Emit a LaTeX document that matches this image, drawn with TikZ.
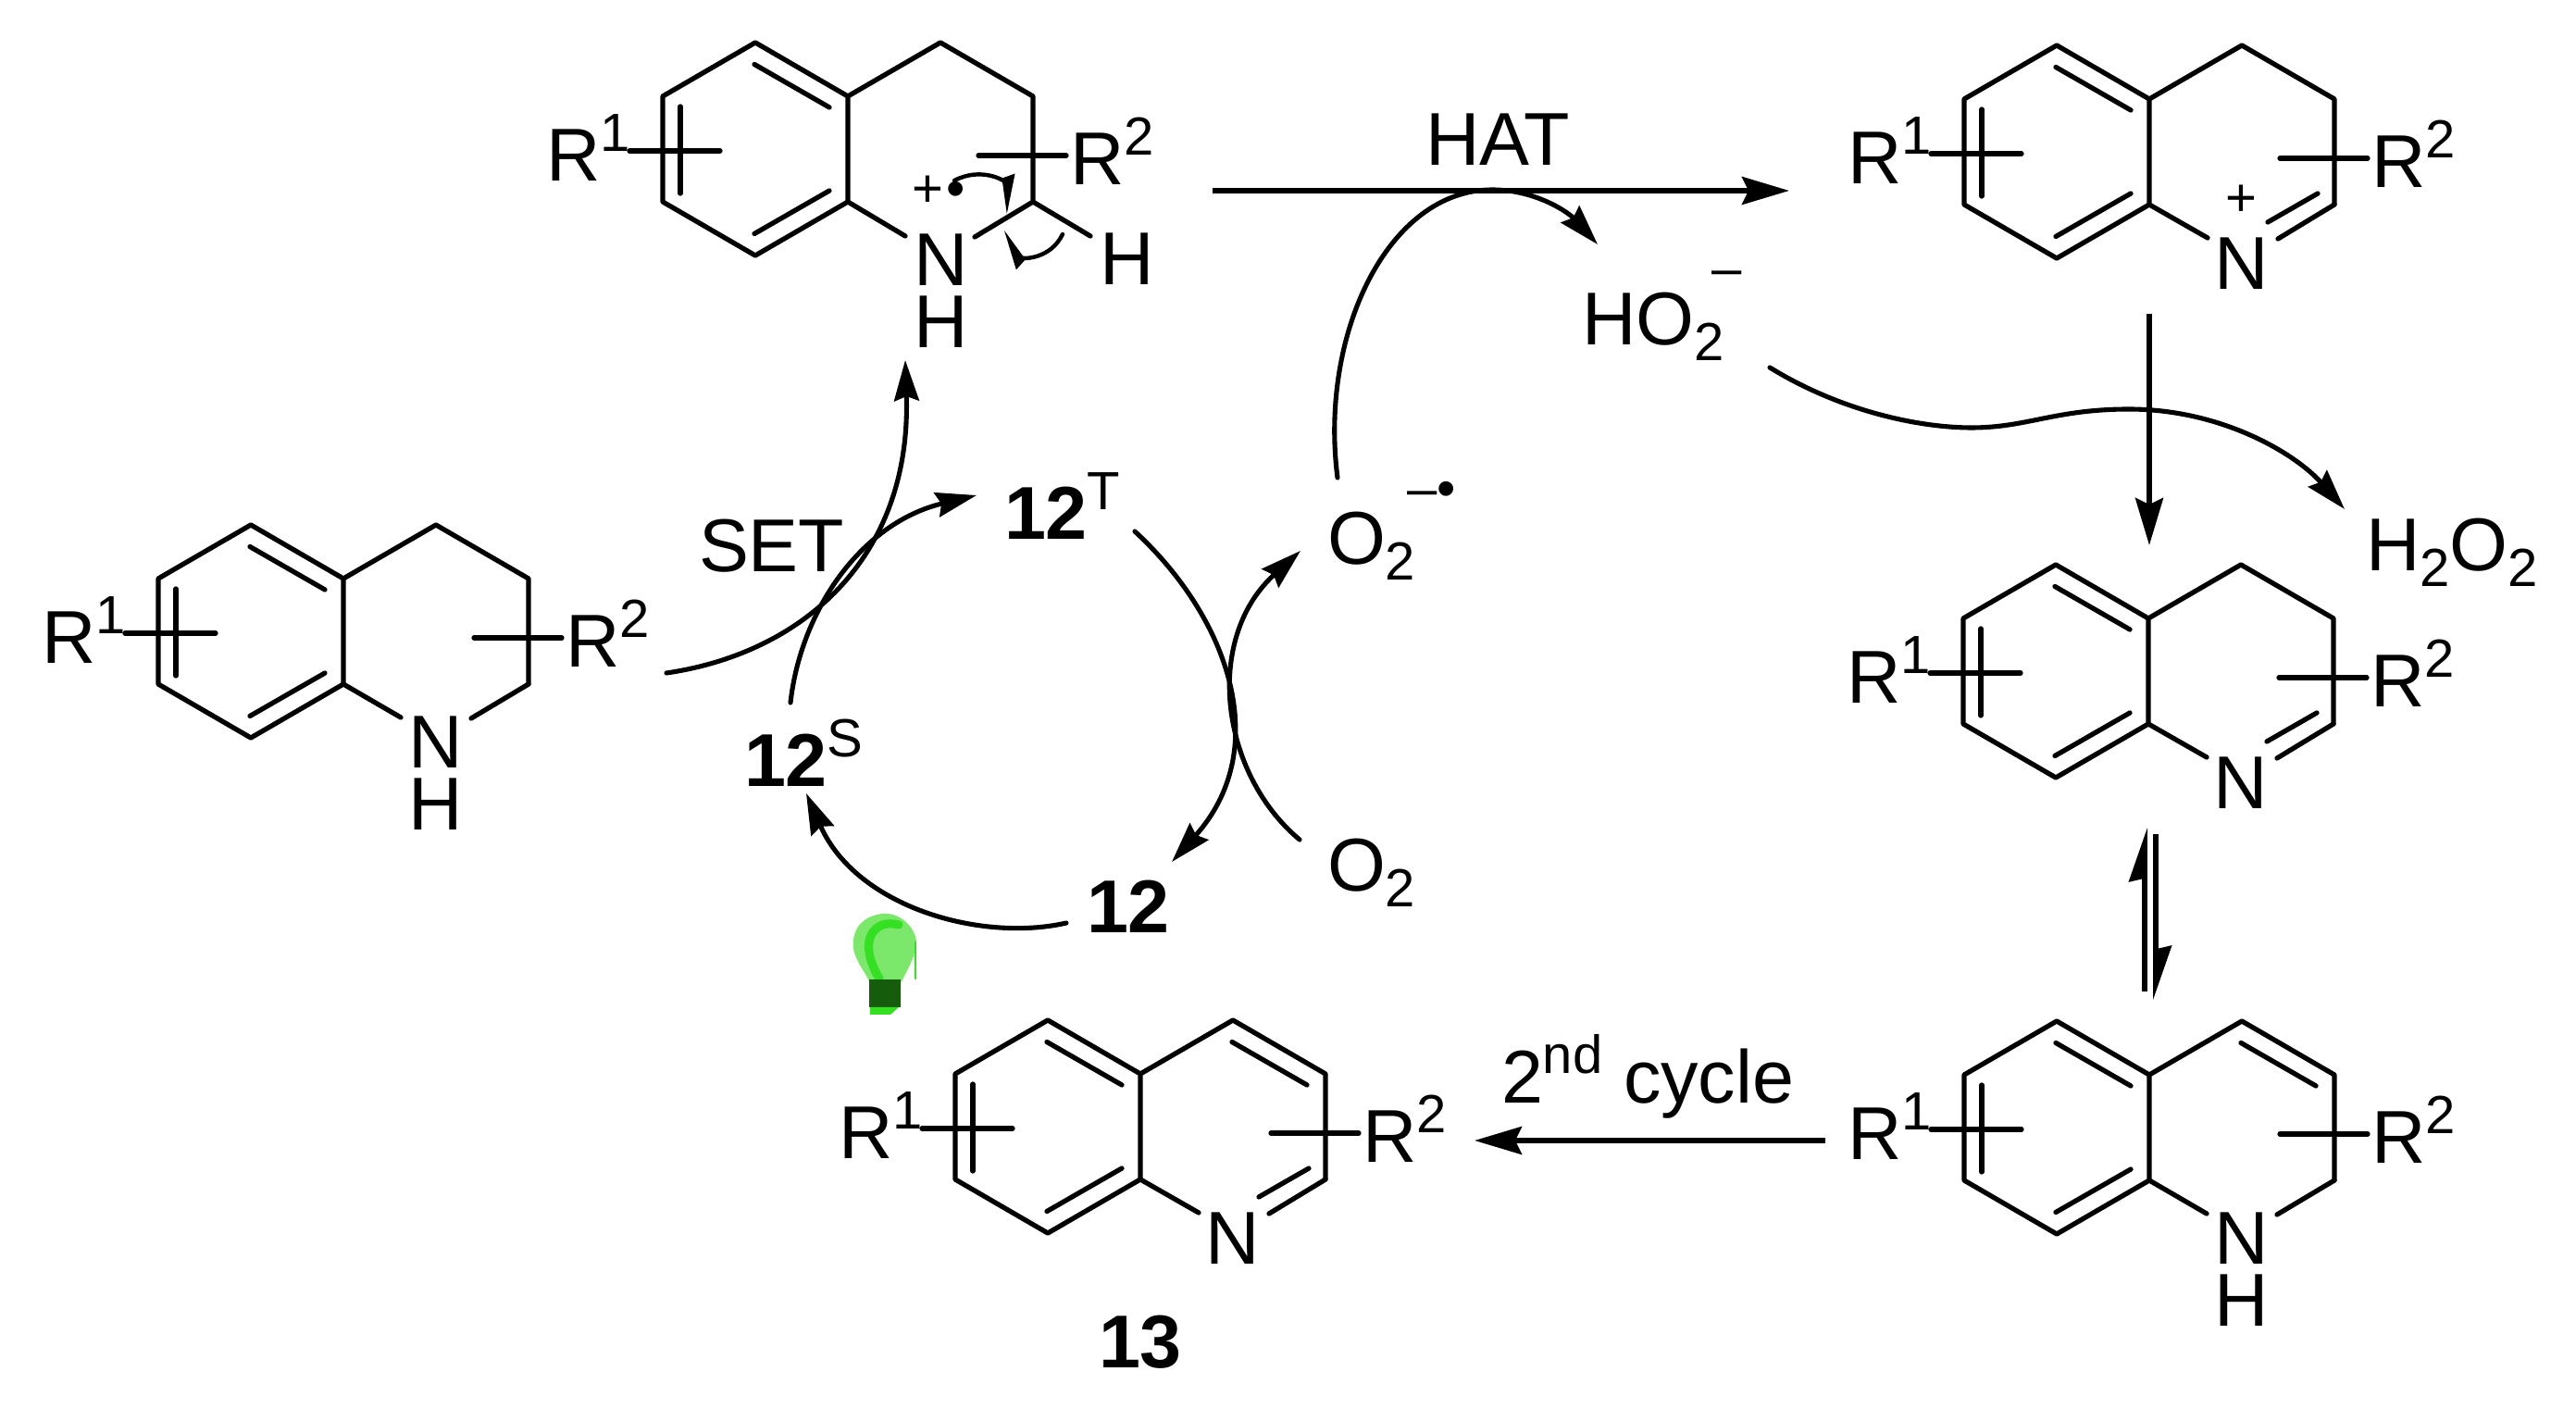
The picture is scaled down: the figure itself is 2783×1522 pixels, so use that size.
\documentclass[tikz,border=0pt]{standalone}
\usepackage{fontspec}
\setmainfont{Liberation Sans}
\usetikzlibrary{arrows.meta}
\definecolor{bulblt}{HTML}{7BE86B}
\definecolor{bulbgr}{HTML}{35DF22}
\definecolor{bulbdk}{HTML}{155C0C}
\newcommand{\lab}{\fontsize{23}{27}\selectfont}
\newcommand{\labsm}{\fontsize{16.5}{20}\selectfont}
\newcommand{\upidx}[1]{\raisebox{9.1pt}{\labsm #1}}
\newcommand{\dnidx}[1]{\raisebox{-4.8pt}{\labsm #1}}
\tikzset{
	bond/.style={line width=1.5pt},
	txt/.style={font=\lab,inner sep=0pt,outer sep=0pt,anchor=base west},
	atm/.style={font=\lab,inner sep=0pt,outer sep=0pt,anchor=base},
	nh/.style={font=\fontsize{23}{19}\selectfont,align=center,inner sep=0pt,outer sep=0pt,anchor=north},
	chg/.style={font=\labsm,inner sep=0pt,outer sep=0pt,anchor=base west},
	bigarr/.style={line width=1.7pt,line cap=butt,-{Stealth[length=14.5pt,width=8.5pt,inset=2pt]}},
	curv/.style={line width=1.45pt,-{Stealth[length=12.5pt,width=7.6pt,inset=1.4pt]}},
	eqarr/.style={line width=1.6pt,line cap=butt,-{Stealth[harpoon,length=14.2pt,width=9.6pt,inset=1pt]}},
	fish/.style={line width=1.25pt,-{Stealth[harpoon,length=10pt,width=6.8pt,inset=.6pt]}},
	bicyc/.pic={
		\draw[bond] (0,-57)--(-100,-115)--(-200,-57)--(-200,57)--(-100,115)--(0,57)--cycle;
		\draw[bond] (0,-57)--(100,-115)--(200,-57)--(200,57);
		\draw[bond] (-101,-91.5)--(-20,-45);
		\draw[bond] (-101,91.5)--(-20,45);
		\draw[bond] (-181,-46)--(-181,48);
		\draw[bond] (-236,2)--(-138,2);
		\draw[bond] (141,7)--(236,7);
		\node[txt] (ra) at (-326,34.5) {R\upidx{1}};
		\node[txt] (rb) at (240,38.5) {R\upidx{2}};
	},
	amine/.pic={
		\draw[bond] (0,57)--(62,93);
		\draw[bond] (138,94)--(200,57);
		\node[nh] (n) at (100,92) {N\\H};
	},
	imine/.pic={
		\draw[bond] (0,57)--(63,93);
		\draw[bond] (139,94)--(200,57);
		\draw[bond] (128,76)--(182,45);
		\node[atm] (n) at (100,149) {N};
	},
	alkene/.pic={
		\draw[bond] (99,-91.5)--(180,-45);
	}
}
\begin{document}
\begin{tikzpicture}[x=0.01cm,y=-0.01cm,line join=round,line cap=round]
	\useasboundingbox (0,0) rectangle (2783,1522);
	% molecules
	\pic (mola) at (916,161) {bicyc};
	\pic (molb) at (2322,164) {bicyc};
	\pic (molc) at (2321,725) {bicyc};
	\pic (mold) at (2322,1218) {bicyc};
	\pic (mole) at (371,682) {bicyc};
	\pic (molf) at (1232,1217) {bicyc};
	\pic (nb) at (2322,164) {imine};
	\pic (nc) at (2321,725) {imine};
	\pic (nd) at (2322,1218) {amine};
	\pic (ne) at (371,682) {amine};
	\pic (nf) at (1232,1217) {imine};
	\pic (cd) at (2322,1218) {alkene};
	\pic (cf) at (1232,1217) {alkene};
	% radical cation
	\draw[bond] (916,218)--(978,255);
	\draw[bond] (1053,256)--(1116,218)--(1178,255);
	\node[nh] (nra) at (1017,253) {N\\H};
	\node[txt] (hrb) at (1188,308) {H};
	\node[anchor=center,font=\labsm,inner sep=0pt] (rad) at (1014,207) {+\kern 1pt•};
	\node[anchor=center,font=\labsm,inner sep=0pt] (plb) at (2421,217) {+};
	\coordinate (fa) at (1031,195);
	\coordinate (fb) at (1090,231);
	\coordinate (fc) at (1148,253);
	\coordinate (fd) at (1083,250);
	\draw[fish] (fa) .. controls (1060,180) and (1085,195) .. (fb);
	\draw[fish] (fc) .. controls (1135,280) and (1105,280) .. (fd);
	% labels
	\node[txt] (hat) at (1540,179) {HAT};
	\node[txt] (set) at (755,618) {SET};
	\node[txt] (hoo) at (1709,373) {HO\dnidx{2}};
	\node[chg] (hoom) at (1849,310) {–};
	\node[txt] (oor) at (1434,610) {O\dnidx{2}};
	\node[chg] (oorm) at (1520,548) {–•};
	\node[txt] (oo) at (1434,963) {O\dnidx{2}};
	\node[txt] (hooh) at (2556,617) {H\dnidx{2}O\dnidx{2}};
	\node[txt] (cyc) at (1622,1192) {2\upidx{nd} cycle};
	\node[txt] (ct) at (1085,583) {\textbf{12}\upidx{T}};
	\node[txt] (cs) at (804,850) {\textbf{12}\upidx{S}};
	\node[txt] (cz) at (1174,1008) {\textbf{12}};
	\node[atm] (prod) at (1232,1478) {\textbf{13}};
	% straight arrows
	\coordinate (hata) at (1310,206);
	\coordinate (hatb) at (1933,206);
	\coordinate (bca) at (2322,339);
	\coordinate (bcb) at (2322,589);
	\coordinate (upa) at (2317,1071);
	\coordinate (upb) at (2317,894);
	\coordinate (dna) at (2329,901);
	\coordinate (dnb) at (2329,1080);
	\coordinate (dfa) at (1972,1232);
	\coordinate (dfb) at (1593,1232);
	\draw[bigarr] (hata)--(hatb);
	\draw[bigarr] (bca)--(bcb);
	\draw[eqarr] (upa)--(upb);
	\draw[eqarr] (dna)--(dnb);
	\draw[bigarr] (dfa)--(dfb);
	% curved arrows
	\coordinate (seta) at (720,727);
	\coordinate (setb) at (978,389);
	\coordinate (sta) at (854,759);
	\coordinate (stb) at (1055,535);
	\coordinate (tza) at (1226,574);
	\coordinate (tzb) at (1266,931);
	\coordinate (ooa) at (1404,907);
	\coordinate (oob) at (1405,595);
	\coordinate (zsa) at (1152,997);
	\coordinate (zsb) at (871,857);
	\coordinate (rta) at (1445,516);
	\coordinate (rtm) at (1612,205);
	\coordinate (rtb) at (1726,264);
	\coordinate (hha) at (1912,397);
	\coordinate (hhb) at (2533,550);
	\draw[curv] (seta) .. controls (870,705) and (985,600) .. (setb);
	\draw[curv] (sta) .. controls (865,660) and (930,565) .. (stb);
	\draw[curv] (tza) .. controls (1330,670) and (1375,810) .. (tzb);
	\draw[curv] (ooa) .. controls (1318,835) and (1300,690) .. (oob);
	\draw[curv] (zsa) .. controls (1060,1018) and (925,980) .. (zsb);
	\draw[curv] (rta) .. controls (1425,360) and (1500,205) .. (rtm) .. controls (1660,205) and (1695,230) .. (rtb);
	\draw[curv] (hha) .. controls (1990,445) and (2075,462) .. (2130,462) .. controls (2190,462) and (2220,442) .. (2300,442) .. controls (2400,442) and (2480,490) .. (hhb);
	% bulb
	\fill[bulblt] (953,987) .. controls (930,990) and (920,1005) .. (922,1025) .. controls (925,1040) and (935,1050) .. (940,1062) -- (973,1062) .. controls (982,1045) and (990,1030) .. (990,1018) .. controls (990,1005) and (975,985) .. (953,987) -- cycle;
	\draw[bulbgr,line width=2.6pt] (971,999) .. controls (945,992) and (925,1015) .. (950,1057);
	\draw[bulbgr,line width=.7pt] (989,1018)--(989,1057);
	\fill[bulbdk] (939,1058) rectangle (973,1088);
	\fill[bulbgr] (940,1088)--(971,1088)--(962,1096)--(940,1096)--cycle;
\end{tikzpicture}
\end{document}
